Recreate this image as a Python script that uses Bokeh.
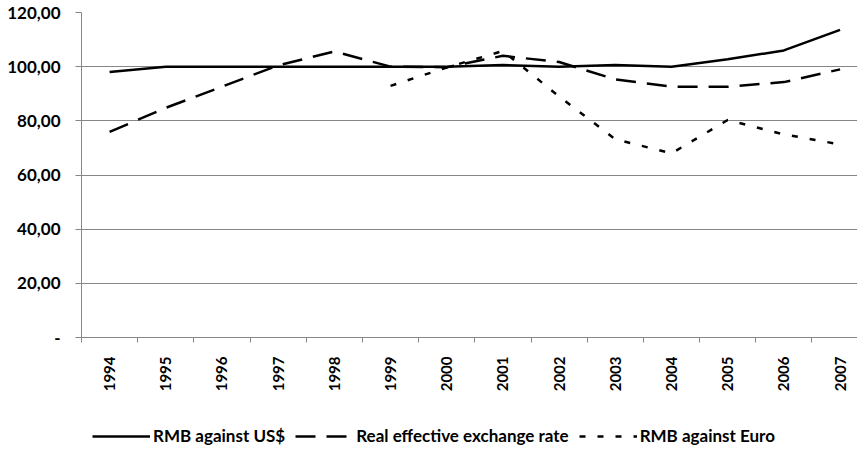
import math
from bokeh.plotting import figure
from bokeh.layouts import column
from bokeh.models import FixedTicker, Legend, LegendItem, Range1d
from bokeh.embed import file_html
from bokeh.resources import INLINE

years = ["1994", "1995", "1996", "1997", "1998", "1999", "2000",
         "2001", "2002", "2003", "2004", "2005", "2006", "2007"]
rmb_usd = [98.0, 100.0, 100.0, 100.0, 100.0, 100.0, 100.0,
           100.6, 100.0, 100.6, 100.0, 102.7, 106.0, 113.6]
reer = [75.9, 84.8, 92.6, 100.5, 105.6, 100.0, 99.8,
        104.0, 101.7, 95.3, 92.6, 92.6, 94.3, 99.0]
euro_years = ["1999", "2000", "2001", "2002", "2003", "2004", "2005", "2006", "2007"]
rmb_euro = [92.9, 99.7, 105.8, 89.0, 73.2, 68.0, 80.3, 75.0, 71.3]
y_ticks = [0, 20, 40, 60, 80, 100, 120]
y_labels = ["-", "20,00", "40,00", "60,00", "80,00", "100,00", "120,00"]
series_names = ["RMB against US$", "Real effective exchange rate", "RMB against Euro"]

FONT = "Lato"
GRID = "#868686"

x_all = [years.index(y) + 0.5 for y in years]
x_euro = [years.index(y) + 0.5 for y in euro_years]

styles = [dict(line_color="black", line_width=2.5),
          dict(line_color="black", line_width=2.5, line_dash="20 11"),
          dict(line_color="black", line_width=2.5, line_dash="6 12")]

# ---------------- main chart ----------------
p = figure(width=857, height=397, output_backend="svg", toolbar_location=None,
           x_range=Range1d(0, 13.81), y_range=Range1d(0, 120),
           min_border_left=81, min_border_right=0, min_border_top=12,
           min_border_bottom=60)
p.outline_line_color = None
p.background_fill_color = "white"
p.xgrid.visible = False
p.ygrid.ticker = FixedTicker(ticks=y_ticks)
p.ygrid.grid_line_color = GRID
p.ygrid.grid_line_width = 1

ya = p.yaxis[0]
ya.ticker = FixedTicker(ticks=y_ticks)
ya.major_label_overrides = {t: l for t, l in zip(y_ticks, y_labels)}
ya.axis_line_color = GRID
ya.major_tick_line_color = GRID
ya.major_tick_in = 0
ya.major_tick_out = 6
ya.minor_tick_line_color = None
ya.major_label_standoff = 15
ya.major_label_text_font = FONT
ya.major_label_text_font_style = "bold"
ya.major_label_text_font_size = "17px"
ya.major_label_text_color = "black"

xa = p.xaxis[0]
xa.ticker = FixedTicker(ticks=x_all, minor_ticks=list(range(len(years) + 1)))
xa.major_label_overrides = {x: y for x, y in zip(x_all, years)}
xa.axis_line_color = GRID
xa.major_tick_line_color = None
xa.major_tick_in = 0
xa.major_tick_out = 0
xa.minor_tick_line_color = GRID
xa.minor_tick_in = 0
xa.minor_tick_out = 5
xa.major_label_orientation = math.pi / 2
xa.major_label_standoff = 14
xa.major_label_text_font = FONT
xa.major_label_text_font_style = "bold"
xa.major_label_text_font_size = "15px"
xa.major_label_text_color = "black"

p.line(x_all, rmb_usd, **styles[0])
p.line(x_all, reer, **styles[1])
p.line(x_euro, rmb_euro, **styles[2])

# ---------------- legend strip ----------------
lf = figure(width=857, height=49, output_backend="svg", toolbar_location=None,
            x_axis_type=None, y_axis_type=None,
            x_range=Range1d(0, 1), y_range=Range1d(0, 1),
            min_border_left=0, min_border_right=0, min_border_top=0,
            min_border_bottom=0)
lf.outline_line_color = None
# same series drawn outside the visible range: they only feed the legend samples
l1 = lf.line(x_all, rmb_usd, **styles[0])
l2 = lf.line(x_all, reer, **styles[1])
l3 = lf.line(x_euro, rmb_euro, **styles[2])

legend = Legend(
    items=[LegendItem(label=series_names[0], renderers=[l1]),
           LegendItem(label=series_names[1], renderers=[l2]),
           LegendItem(label=series_names[2], renderers=[l3])],
    orientation="horizontal", location=(11, 0),
    glyph_width=58, glyph_height=20, label_standoff=3, spacing=10,
    padding=0, margin=0, border_line_color=None, background_fill_alpha=0,
    label_text_font=FONT, label_text_font_style="bold",
    label_text_font_size="17px", label_text_color="black",
)
lf.add_layout(legend, "center")

layout = column(p, lf, spacing=0)
open("out.html", "w").write(file_html(layout, INLINE))
